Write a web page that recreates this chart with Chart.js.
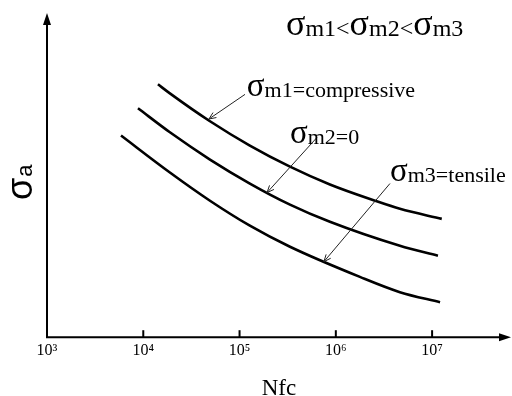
<!DOCTYPE html>
<html lang="en">
<head>
<meta charset="UTF-8">
<title>Stress amplitude vs cycles to failure</title>
<script src="https://cdn.jsdelivr.net/npm/chart.js"></script>
<style>
  html, body { margin: 0; padding: 0; background: #fff; }
</style>
</head>
<body>
<canvas id="snChart" width="512" height="396"></canvas>
<script>
// Nfc (cycles) and stress amplitude (relative units, 0-100)
const nfcCompressive   = [1.42e4, 1.89e4, 4.93e4, 1.28e5, 3.34e5, 8.68e5, 2.55e6, 4.63e6, 1.26e7];
const sigmaCompressive = [78.0, 75.2, 66.6, 59.1, 52.6, 47.1, 42.1, 39.6, 36.5];

const nfcZero   = [8.81e3, 1.89e4, 4.93e4, 1.28e5, 3.34e5, 8.68e5, 4.63e6, 1.15e7];
const sigmaZero = [70.6, 63.2, 54.8, 47.4, 40.9, 35.6, 28.2, 25.1];

const nfcTensile   = [5.87e3, 1.89e4, 4.93e4, 1.28e5, 3.34e5, 1.78e6, 4.63e6, 1.21e7];
const sigmaTensile = [62.2, 50.8, 42.1, 34.4, 27.9, 18.6, 13.9, 10.8];

const tickValues = [1e3, 1e4, 1e5, 1e6, 1e7];
const tickLabels = ['10³', '10⁴', '10⁵', '10⁶', '10⁷'];

// curve labels: text, label anchor [N, sigma], leader tail [N, sigma], leader tip [N, sigma]
const curveLabels = [
  { sub: 'm1=compressive', at: [1.19e5, 74.3], tail: [1.14e5, 74.9], tip: [4.81e4, 67.3] },
  { sub: 'm2=0',           at: [3.34e5, 59.8], tail: [6.37e5, 61.6], tip: [1.93e5, 44.6] },
  { sub: 'm3=tensile',     at: [3.65e6, 48.3], tail: [3.65e6, 47.4], tip: [7.52e5, 23.3] }
];

function toPoints(xs, ys) {
  return xs.map((v, i) => ({ x: v, y: ys[i] }));
}

const SERIF = '"Liberation Serif", "Times New Roman", serif';
const SANS = '"Liberation Sans", Arial, sans-serif';

// big sigma followed by a smaller subscript string
function sigmaText(ctx, x, y, sub, big, small) {
  ctx.font = big + 'px ' + SERIF;
  ctx.fillText('σ', x, y);
  const w = ctx.measureText('σ').width;
  ctx.font = small + 'px ' + SERIF;
  ctx.fillText(sub, x + w, y + 1);
  return x + w + ctx.measureText(sub).width;
}

function arrowHead(ctx, x1, y1, x2, y2, len, half, filled) {
  const ang = Math.atan2(y2 - y1, x2 - x1);
  const ax = x2 - len * Math.cos(ang), ay = y2 - len * Math.sin(ang);
  const px = -Math.sin(ang) * half, py = Math.cos(ang) * half;
  ctx.beginPath();
  ctx.moveTo(ax + px, ay + py);
  ctx.lineTo(x2, y2);
  ctx.lineTo(ax - px, ay - py);
  if (filled) { ctx.closePath(); ctx.fill(); } else { ctx.stroke(); }
}

const sketchPlugin = {
  id: 'sketch',
  afterDraw(chart) {
    const { ctx, chartArea: a, scales: { x, y } } = chart;
    ctx.save();
    ctx.strokeStyle = '#000';
    ctx.fillStyle = '#000';

    // axes with arrows
    ctx.lineWidth = 2;
    ctx.lineJoin = 'miter';
    ctx.beginPath();
    ctx.moveTo(a.left, a.top + 8);
    ctx.lineTo(a.left, a.bottom);
    ctx.lineTo(a.right - 8, a.bottom);
    ctx.stroke();
    arrowHead(ctx, a.left, a.bottom, a.left, a.top, 12, 4, true);
    arrowHead(ctx, a.left, a.bottom, a.right, a.bottom, 12, 4, true);

    // tick marks pointing up into the plot
    tickValues.slice(1).forEach(v => {
      const px = x.getPixelForValue(v);
      ctx.beginPath();
      ctx.moveTo(px, a.bottom);
      ctx.lineTo(px, a.bottom - 7);
      ctx.stroke();
    });

    // leaders
    ctx.lineWidth = 1;
    ctx.strokeStyle = '#222';
    curveLabels.forEach(c => {
      const x1 = x.getPixelForValue(c.tail[0]), y1 = y.getPixelForValue(c.tail[1]);
      const x2 = x.getPixelForValue(c.tip[0]), y2 = y.getPixelForValue(c.tip[1]);
      ctx.beginPath();
      ctx.moveTo(x1, y1);
      ctx.lineTo(x2, y2);
      ctx.stroke();
      arrowHead(ctx, x1, y1, x2, y2, 7, 3, false);
    });

    // curve labels
    ctx.textBaseline = 'alphabetic';
    ctx.textAlign = 'left';
    curveLabels.forEach(c => {
      sigmaText(ctx, x.getPixelForValue(c.at[0]), y.getPixelForValue(c.at[1]), c.sub, 33, 22);
    });

    // ordering note at top
    let tx = 286;
    tx = sigmaText(ctx, tx, 35, 'm1<', 36, 24);
    tx = sigmaText(ctx, tx, 35, 'm2<', 36, 24);
    sigmaText(ctx, tx, 35, 'm3', 36, 24);

    // y title
    ctx.translate(32, 200);
    ctx.rotate(-Math.PI / 2);
    ctx.font = '36px ' + SANS;
    ctx.fillText('σ', 0, 0);
    const w = ctx.measureText('σ').width;
    ctx.font = '22px ' + SANS;
    ctx.fillText('a', w + 1, 0);
    ctx.restore();
  }
};

new Chart(document.getElementById('snChart'), {
  type: 'line',
  data: {
    datasets: [
      { label: 'compressive', data: toPoints(nfcCompressive, sigmaCompressive) },
      { label: 'zero', data: toPoints(nfcZero, sigmaZero) },
      { label: 'tensile', data: toPoints(nfcTensile, sigmaTensile) }
    ]
  },
  options: {
    responsive: false,
    animation: false,
    layout: { padding: { left: 47, right: 1, top: 13, bottom: 0 } },
    elements: {
      line: { borderColor: '#000', borderWidth: 2.6, fill: false, cubicInterpolationMode: 'monotone' },
      point: { radius: 0, hoverRadius: 0 }
    },
    plugins: {
      legend: { display: false },
      tooltip: { enabled: false }
    },
    scales: {
      x: {
        type: 'logarithmic',
        min: 1e3,
        max: 6.6e7,
        afterBuildTicks: scale => { scale.ticks = tickValues.map(v => ({ value: v })); },
        grid: { display: false, drawTicks: false },
        border: { display: false },
        ticks: {
          color: '#000',
          padding: 4,
          maxRotation: 0,
          autoSkip: false,
          font: { family: SERIF, size: 16 },
          callback: (value, index) => tickLabels[index]
        },
        title: {
          display: true,
          text: 'Nfc',
          color: '#000',
          font: { family: SERIF, size: 23 },
          padding: { top: 11, bottom: -7 }
        }
      },
      y: {
        display: false,
        min: 0,
        max: 100
      }
    }
  },
  plugins: [sketchPlugin]
});
</script>
</body>
</html>
